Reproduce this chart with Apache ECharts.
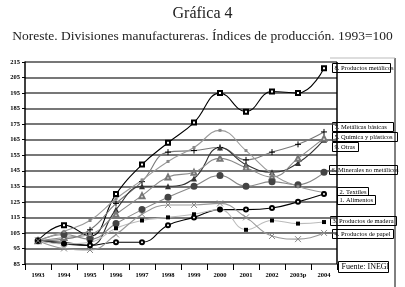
<!DOCTYPE html>
<html>
<head>
<meta charset="utf-8">
<script src="https://cdn.jsdelivr.net/npm/echarts@6/dist/echarts.min.js"></script>
<style>
  html, body { margin: 0; padding: 0; background: #fff; }
  #chart { width: 405px; height: 287px; }
</style>
</head>
<body>
<div id="chart"></div>
<script>
// datos
var anios = ['1993','1994','1995','1996','1997','1998','1999','2000','2001','2002','2003p','2004'];
var metalicos  = [100, 110, 103, 130, 149, 163, 176, 195, 183, 196, 195, 211];
var basicas    = [100, 101, 107, 124, 138, 157, 158, 160, 152, 157, 162, 170];
var quimica    = [100, 99, 97, 120, 135, 135, 140, 160, 149, 144, 150, 165];
var otras      = [100, 102, 104, 117, 129, 141, 144, 153, 147, 141, 153, 166];
var minerales  = [100, 104, 101, 111, 120, 128, 135, 142, 135, 138, 136, 144];
var textiles   = [100, 106, 113, 127, 139, 151, 160, 171, 158, 143, 135, 131];
var alimentos  = [100, 98, 97, 99, 99, 110, 115, 120, 120, 121, 125, 130];
var madera     = [100, 98, 99, 108, 113, 115, 117, 120, 107, 113, 111, 112];
var papel      = [100, 95, 94, 104, 117, 123, 123, 124, 115, 103, 101, 105];

var FONT = 'Liberation Serif';
var CRUZ = 'path://M5,0L5,10M0,5L10,5';
var EQUIS = 'path://M0,0L10,10M10,0L0,10';

function serie(nombre, datos, linea, simbolo, tam, marca, borde) {
    return {
        name: nombre,
        type: 'line',
        data: datos,
        smooth: 0.45,
        symbol: simbolo,
        symbolSize: tam,
        showAllSymbol: true,
        lineStyle: { color: linea, width: 1.1, type: 'solid' },
        itemStyle: { color: marca, borderColor: marca, borderWidth: borde },
        emphasis: { disabled: true },
        z: 3
    };
}

// etiquetas a la derecha: [texto, x, y, ancho]
var etiquetas = [
    ['8. Productos metálicos', 332, 63, 58],
    ['7. Metálicas básicas', 332, 122, 61],
    ['5. Química y plásticos', 332, 132, 65],
    ['9. Otras', 332, 142, 26],
    ['6. Minerales no metálicos', 329, 165, 68],
    ['2. Textiles', 337, 187, 31],
    ['1. Alimentos', 337, 195, 38],
    ['3. Productos de madera', 330, 216, 66],
    ['4. Productos de papel', 332, 229, 61]
];

var graficos = [
    { type: 'line', shape: { x1: 337, y1: 62, x2: 337, y2: 264 }, style: { stroke: '#000', lineWidth: 1.5 }, z: 2 },
    { type: 'line', shape: { x1: 395, y1: 58, x2: 395, y2: 287 }, style: { stroke: '#000', lineWidth: 1 }, z: 2 },
    { type: 'line', shape: { x1: 330, y1: 58, x2: 395, y2: 58 }, style: { stroke: '#bbb', lineWidth: 1 }, z: 2 }
];
etiquetas.forEach(function (e) {
    graficos.push({
        type: 'group', left: e[1], top: e[2], z: 10,
        children: [
            { type: 'rect', shape: { x: 0, y: 0, width: e[3], height: 9 }, style: { fill: '#fff', stroke: '#000', lineWidth: 1 } },
            { type: 'text', x: 2, y: 1.5, style: { text: e[0], font: '6.5px "' + FONT + '"', fill: '#000' } }
        ]
    });
});
graficos.push({
    type: 'group', left: 338, top: 261, z: 10,
    children: [
        { type: 'rect', shape: { x: 0, y: 0, width: 50, height: 11 }, style: { fill: '#fff', stroke: '#000', lineWidth: 1 } },
        { type: 'text', x: 3, y: 1.5, style: { text: 'Fuente: INEGI', font: '8px "' + FONT + '"', fill: '#000' } }
    ]
});

var myChart = echarts.init(document.getElementById('chart'));
var option = {
    animation: false,
    title: [
        { text: 'Gráfica 4', left: 'center', top: 1, textStyle: { fontFamily: FONT, fontSize: 16, fontWeight: 'normal', color: '#222' } },
        { text: 'Noreste. Divisiones manufactureras. Índices de producción. 1993=100', left: 'center', top: 24,
          textStyle: { fontFamily: FONT, fontSize: 13.5, fontWeight: 'normal', color: '#222' } }
    ],
    grid: { left: 25, right: 68, top: 62, bottom: 23, containLabel: false },
    xAxis: {
        type: 'category',
        data: anios,
        boundaryGap: true,
        axisLine: { show: false },
        axisTick: { show: true, length: 6, lineStyle: { color: '#000', width: 1 } },
        axisLabel: { margin: 8, fontFamily: FONT, fontSize: 6.5, fontWeight: 'bold', color: '#000' }
    },
    yAxis: {
        type: 'value',
        min: 85, max: 215, interval: 10,
        axisLine: { show: true, lineStyle: { color: '#000', width: 1.5 } },
        axisTick: { show: true, length: 3, lineStyle: { color: '#000' } },
        axisLabel: { margin: 5, fontFamily: FONT, fontSize: 6.5, fontWeight: 'bold', color: '#000' },
        splitLine: { show: true, lineStyle: { color: '#4a4a4a', width: 1.5 } }
    },
    series: [
        serie('8. Productos metálicos', metalicos, '#000', 'emptyRect', 4, '#000', 0.8),
        serie('7. Metálicas básicas', basicas, '#7a7a7a', CRUZ, 6, '#000', 1),
        serie('5. Química y plásticos', quimica, '#333', 'triangle', 6, '#333', 0),
        serie('9. Otras', otras, '#8a8a8a', 'emptyTriangle', 5, '#777', 0.8),
        serie('6. Minerales no metálicos', minerales, '#888', 'circle', 7, '#444', 0),
        serie('2. Textiles', textiles, '#9a9a9a', 'rect', 3, '#888', 0),
        serie('1. Alimentos', alimentos, '#000', 'emptyCircle', 4, '#000', 0.8),
        serie('3. Productos de madera', madera, '#bbb', 'rect', 4, '#000', 0),
        serie('4. Productos de papel', papel, '#999', EQUIS, 6, '#888', 1)
    ],
    graphic: graficos
};
myChart.setOption(option);
</script>
</body>
</html>
